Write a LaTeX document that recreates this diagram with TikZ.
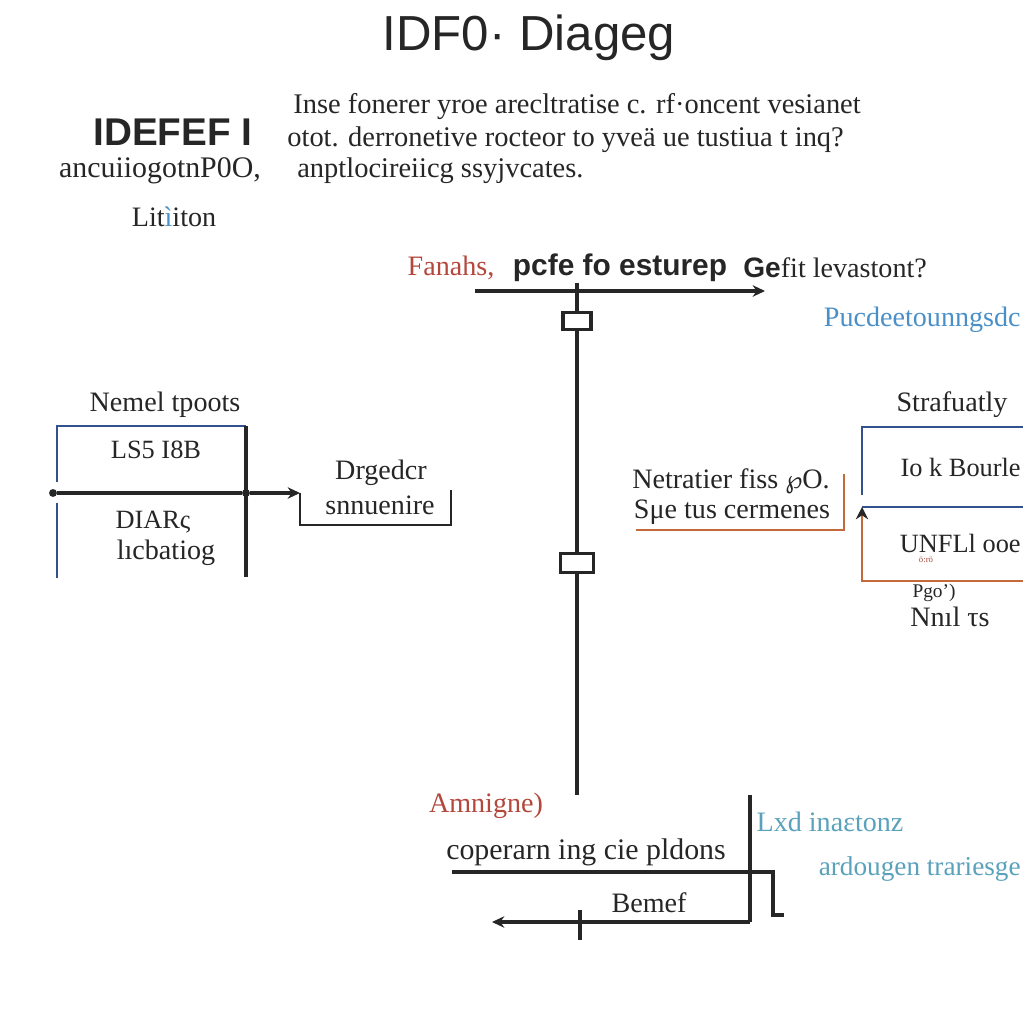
\documentclass[tikz,border=0pt]{standalone}
\usepackage{fontspec}
\setmainfont{Liberation Serif}
\setsansfont{Liberation Sans}
\newfontfamily\symfont{DejaVu Sans}
\usepackage{tikz}
\usetikzlibrary{arrows.meta,positioning}
\definecolor{Ink}{HTML}{262626}
\definecolor{LineBlue}{HTML}{34518F}
\definecolor{LineOrange}{HTML}{C4693A}
\definecolor{TextRed}{HTML}{B3473C}
\definecolor{TextTeal}{HTML}{5AA2BC}
\definecolor{SkyBlue}{HTML}{4A90C8}
\tikzset{
  % Base text
  tx/.style={inner sep=0pt,text=Ink,font=\fontsize{16}{19}\selectfont},
  tP/.style={tx,anchor=west,font=\fontsize{16.2}{18}\selectfont},
  tb/.style={inner sep=0pt,text=Ink,font=\sffamily\bfseries\fontsize{17}{20}\selectfont},
  % Colour variants
  tR/.style={tx,text=TextRed},
  tT/.style={tx,text=TextTeal},
  % Lines
  ln/.style={line width=1.8pt,draw=Ink},
  lB/.style={line width=1.6pt,draw=LineBlue},
  lO/.style={line width=1.6pt,draw=LineOrange},
  arr/.style={-{Stealth[length=7pt,width=6.5pt]}},
  % Junction boxes and dots
  jn/.style={rectangle,draw=Ink,line width=1.8pt,fill=white,inner sep=0pt},
  dt/.style={circle,fill=Ink,inner sep=0pt,minimum size=4.5pt}
}
\begin{document}
\begin{tikzpicture}[x=0.02cm,y=-0.02cm]
  \useasboundingbox[fill=white] (0,0) rectangle (1023,1023);

  % --- Heading block ---
  \node[inner sep=0pt,text=Ink,font=\sffamily\fontsize{28}{32}\selectfont] (title) at (529,38) {IDF0· Diageg};
  \node[tb,font=\sffamily\bfseries\fontsize{22}{26}\selectfont] (idef) at (173,132) {IDEFEF I};
  \node[tx,font=\fontsize{17}{20}\selectfont] (sub)  at (160,171) {ancuiiogotnP0O,};
  \node[tx] (lit)  at (174,217) {Lit{\color{SkyBlue}ì}iton};
  \node[tP] (p1) at (293,107) {Inse fonerer yroe arecltratise c. rf·oncent vesianet};
  \node[tP] (p2) at (287,140) {otot. derronetive rocteor to yveä ue tustiua t inq?};
  \node[tP] (p3) at (297,171) {anptlocireiicg ssyjvcates.};

  % --- Top control arrow ---
  \node[tR] (fan) at (451,268) {Fanahs,};
  \node[tb] (pcfe) at (620,268) {pcfe fo esturep};
  \node[tx,anchor=west] (geft) at (743,268) {{\sffamily\bfseries Ge}fit levastont?};
  \node[tT,text=SkyBlue,anchor=east] (puc) at (1021,320) {Pucdeetounngsdc};
  \coordinate (ctlL) at (475,291);
  \coordinate (ctlR) at (765,291);
  \coordinate (ctlX) at (577,283);
  \draw[ln,arr] (ctlL) -- (ctlR);

  % --- Central spine ---
  \node[jn,minimum width=0.56cm,minimum height=0.34cm] (j1) at (577,321) {};
  \node[jn,minimum width=0.66cm,minimum height=0.38cm] (j2) at (577,563) {};
  \coordinate (spE) at (577,795);
  \draw[ln] (ctlX) -- (j1);
  \draw[ln] (j1) -- (j2);
  \draw[ln] (j2) -- (spE);

  % --- Left box ---
  \node[tx] (nem) at (165,405) {Nemel tpoots};
  \node[tx,font=\fontsize{15}{18}\selectfont] (ls5) at (156,450) {LS5 I8B};
  \node[tx,font=\fontsize{15}{18}\selectfont] (diar) at (153,522) {DIARς};
  \node[tx] (lic) at (166,553) {lıcbatiog};
  \coordinate (lbA) at (57,482);
  \coordinate (lbB) at (246,426);
  \coordinate (lbC) at (246,577);
  \coordinate (lbD) at (57,503);
  \coordinate (lbE) at (57,578);
  \draw[lB] (lbA) |- (lbB);
  \draw[lB] (lbD) -- (lbE);
  \draw[ln] (lbB) -- (lbC);
  \node[dt] (inL) at (53,493) {};
  \node[dt] (inM) at (246,493) {};
  \coordinate (inR) at (300,493);
  \draw[ln,arr] (inL) -- (inM) -- (inR);

  % bracket to the right
  \node[tx] (drg) at (381,473) {Drgedcr};
  \node[tx] (snn) at (380,505) {snnuenire};
  \coordinate (brA) at (451,490);
  \coordinate (brB) at (451,525);
  \draw[line width=1.3pt,draw=Ink] (inR) |- (brB) -- (brA);

  % --- Right box ---
  \node[tx] (net) at (731,481) {Netratier fiss {\symfont\fontsize{14}{16}\selectfont ℘}O.};
  \node[tx] (sue) at (732,512) {Sμe tus cermenes};
  \coordinate (orA) at (636,530);
  \coordinate (orB) at (844,474);
  \draw[lO] (orA) -| (orB);

  \node[tx] (str) at (952,405) {Strafuatly};
  \node[tx,anchor=east,font=\fontsize{15}{18}\selectfont] (iok) at (1021,467) {Io k Bourle};
  \node[tx,anchor=east,font=\fontsize{15}{18}\selectfont] (unf) at (1021,543) {UNFLl ooe};
  \node[inner sep=0pt,text=TextRed,font=\fontsize{5}{6}\selectfont] (sml) at (926,560) {ö:rö};
  \node[tx,font=\fontsize{11}{12}\selectfont] (pgo) at (934,593) {Pgo')};
  \node[tx] (nnl) at (950,617) {Nnıl τs};
  \coordinate (rbA) at (862,495);
  \coordinate (rbB) at (1023,427);
  \coordinate (rbC) at (862,507);
  \coordinate (rbD) at (1023,507);
  \coordinate (rbE) at (1023,581);
  \coordinate (rbF) at (862,581);
  \draw[lB] (rbA) |- (rbB);
  \draw[lB] (rbC) -- (rbD);
  \draw[lO,-{Stealth[length=7pt,width=7pt,color=Ink]}] (rbE) -- (rbF) -- (rbC);

  % --- Bottom output block ---
  \node[tR] (amn) at (486,806) {Amnigne)};
  \node[tx,font=\fontsize{17}{20}\selectfont] (cop) at (586,852) {coperarn ing cie pldons};
  \node[tx] (bem) at (649,903) {Bemef};
  \node[tT] (lxd) at (830,822) {Lxd inaεtonz};
  \node[tT,anchor=east,font=\fontsize{15.5}{18}\selectfont] (ard) at (1021,869) {ardougen trariesge};
  \coordinate (obL) at (452,872);
  \coordinate (obT) at (750,795);
  \coordinate (obB) at (750,922);
  \coordinate (stA) at (773,872);
  \coordinate (stB) at (784,915);
  \coordinate (arL) at (492,922);
  \coordinate (tkT) at (580,910);
  \coordinate (tkB) at (580,940);
  \draw[ln] (obL) -- (stA) |- (stB);
  \draw[ln] (obT) -- (obB);
  \draw[ln,arr] (obB) -- (arL);
  \draw[ln] (tkT) -- (tkB);
\end{tikzpicture}
\end{document}
